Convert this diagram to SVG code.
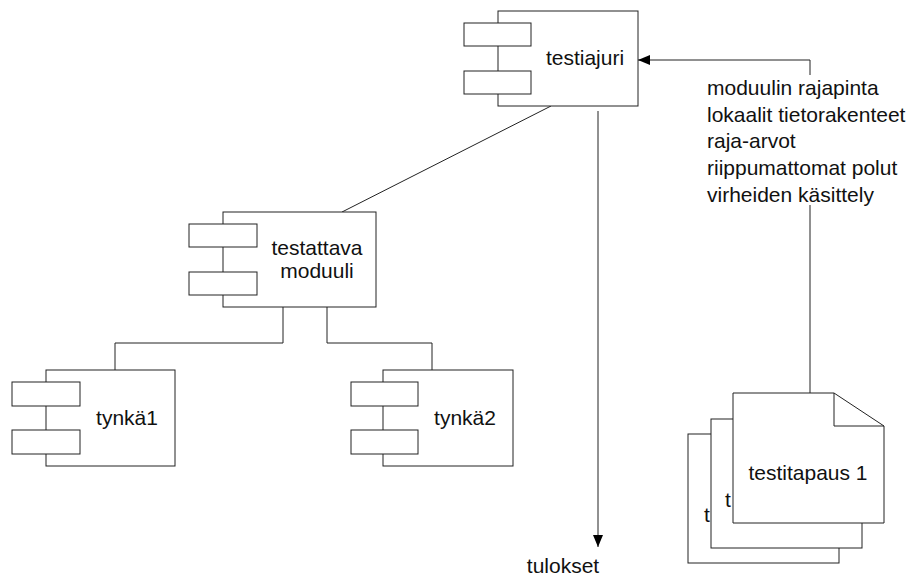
<svg xmlns="http://www.w3.org/2000/svg" width="910" height="576" viewBox="0 0 910 576">
<style>
.box{fill:#fff;stroke:#222;stroke-width:1}
.ln{fill:none;stroke:#222;stroke-width:1}
.t{font-family:"Liberation Sans",Arial,sans-serif;font-size:21px;fill:#111}
.c{text-anchor:middle}
</style>
<defs>
<marker id="arr" markerWidth="12" markerHeight="10" refX="12" refY="5" orient="auto" markerUnits="userSpaceOnUse">
<path d="M0,0 L12,5 L0,10 Z" fill="#000"/>
</marker>
</defs>
<rect width="910" height="576" fill="#fff"/>
<g id="connectors">
<line class="ln" x1="551" y1="106" x2="342" y2="212"/>
<line class="ln" x1="598" y1="111" x2="598" y2="547" marker-end="url(#arr)"/>
<polyline class="ln" points="283,307 283,343 115,343 115,370"/>
<polyline class="ln" points="327,307 327,343 432,343 432,370"/>
<polyline class="ln" points="810,393 810,60 638,60" marker-end="url(#arr)"/>
<rect x="700" y="75" width="205" height="130" fill="#fff"/>
</g>
<g id="label">
<text class="t" x="707" y="95">moduulin rajapinta</text>
<text class="t" x="707" y="122">lokaalit tietorakenteet</text>
<text class="t" x="707" y="148">raja-arvot</text>
<text class="t" x="707" y="175">riippumattomat polut</text>
<text class="t" x="707" y="202">virheiden käsittely</text>
</g>
<g id="testiajuri">
<rect class="box" x="498" y="11" width="140" height="95"/>
<rect class="box" x="464" y="23" width="67" height="23"/>
<rect class="box" x="464" y="71" width="67" height="23"/>
<text class="t c" x="585" y="65">testiajuri</text>
</g>
<g id="testattava">
<rect class="box" x="223" y="212" width="153" height="95"/>
<rect class="box" x="189" y="224" width="68" height="23"/>
<rect class="box" x="189" y="272" width="68" height="23"/>
<text class="t c" x="317" y="255">testattava</text>
<text class="t c" x="317" y="278">moduuli</text>
</g>
<g id="tynka1">
<rect class="box" x="46" y="370" width="129" height="96"/>
<rect class="box" x="12" y="382" width="68" height="24"/>
<rect class="box" x="12" y="430" width="68" height="24"/>
<text class="t c" x="127" y="425">tynkä1</text>
</g>
<g id="tynka2">
<rect class="box" x="383" y="370" width="130" height="96"/>
<rect class="box" x="351" y="382" width="67" height="24"/>
<rect class="box" x="351" y="430" width="67" height="24"/>
<text class="t c" x="465" y="425">tynkä2</text>
</g>
<g id="testitapaus">
<rect class="box" x="688" y="434" width="151" height="129"/>
<text class="t" x="704" y="522">t</text>
<rect class="box" x="711" y="419" width="151" height="129"/>
<text class="t" x="725" y="507">t</text>
<path class="box" d="M733,393 H834 L884,426 V523 H733 Z"/>
<path class="ln" d="M834,393 V426 H884"/>
<text class="t c" x="808" y="480">testitapaus 1</text>
</g>
<g id="tulokset">
<text class="t c" x="563" y="573">tulokset</text>
</g>
</svg>
